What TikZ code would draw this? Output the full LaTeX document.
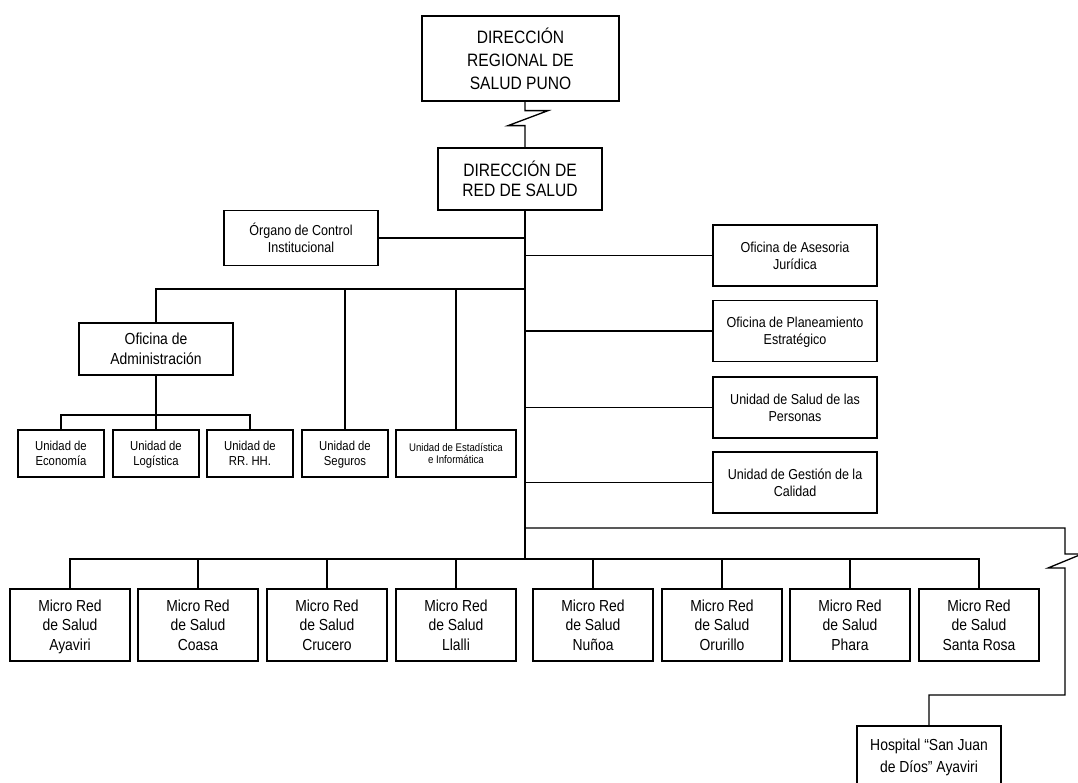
\documentclass[tikz,border=0pt]{standalone}
\usepackage{fontspec}
\setmainfont{Liberation Sans}[FakeStretch=0.87]
\usepackage{tikz}

\begin{document}
\begin{tikzpicture}[
  x=0.02cm, y=-0.02cm,
  line width=0.75pt,
  box/.style={draw, align=center, inner sep=1pt, text depth=0pt},
  headbox/.style={box, font=\fontsize{10.2}{13}\selectfont},
  officebox/.style={box, minimum width=3.28cm, minimum height=1.22cm,
    font=\fontsize{8.2}{9.6}\selectfont},
  unitbox/.style={box, minimum width=1.72cm, minimum height=0.94cm,
    font=\fontsize{7.4}{8.4}\selectfont},
  microbox/.style={box, minimum width=2.4cm, minimum height=1.44cm,
    font=\fontsize{9.1}{11}\selectfont}
]
\useasboundingbox (0,0) rectangle (1078,783);

% top of the chart
\node[headbox, minimum width=3.94cm, minimum height=1.7cm] (dirreg) at (520.5,58.5)
  {DIRECCIÓN\\REGIONAL DE\\SALUD PUNO};
\node[headbox, minimum width=3.28cm, minimum height=1.24cm,
  font=\fontsize{10.2}{11.4}\selectfont] (dirred) at (520,179)
  {DIRECCIÓN DE\\RED DE SALUD};
\coordinate (trunk) at (525,210);
\coordinate (lbus) at (525,289);
\coordinate (sbus) at (0,415);
\coordinate (hbus) at (1065,528);
\coordinate (mbus) at (525,559);
\coordinate (hturn) at (1065,695);

\draw (dirreg.south -| trunk) -- ++(0,9) -- ++(23,0) -- ++(-40,15) -- ++(17,0)
  -- (dirred.north -| trunk);
\draw (trunk) -- (mbus);

% staff offices
\node[officebox, minimum width=3.08cm, minimum height=1.1cm] (oci) at (301,238)
  {Órgano de Control\\Institucional};
\draw (oci.east) -- (oci.east -| trunk);

\node[officebox] (aj) at (795,255.5) {Oficina de Asesoria\\Jurídica};
\node[officebox] (pe) at (795,331) {Oficina de Planeamiento\\Estratégico};
\node[officebox] (sp) at (795,407.5) {Unidad de Salud de las\\Personas};
\node[officebox] (gc) at (795,482.5) {Unidad de Gestión de la\\Calidad};
\foreach \o in {aj,pe,sp,gc}
  \draw (\o.west -| trunk) -- (\o.west);

% line units
\node[box, minimum width=3.08cm, minimum height=1.04cm,
  font=\fontsize{9.1}{11.3}\selectfont] (adm) at (156,349)
  {Oficina de\\Administración};
\node[unitbox] (eco) at (61,453.5) {Unidad de\\Economía};
\node[unitbox] (log) at (156,453.5) {Unidad de\\Logística};
\node[unitbox] (rrhh) at (250,453.5) {Unidad de\\RR. HH.};
\node[unitbox] (seg) at (345,453.5) {Unidad de\\Seguros};
\node[unitbox, minimum width=2.4cm, font=\fontsize{6.3}{7}\selectfont] (est) at (456,453.5)
  {Unidad de Estadística\\e Informática};

\draw (adm.north) |- (lbus);
\draw (seg.north) -- (seg.north |- lbus);
\draw (est.north) -- (est.north |- lbus);
\draw (adm.south) -- (log.north);
\draw (eco.north) |- (rrhh.north |- sbus) -- (rrhh.north);

% micro networks
\foreach \x/\n/\place in {70/1/Ayaviri, 198/2/Coasa, 327/3/Crucero, 456/4/Llalli,
    593/5/Nuñoa, 722/6/Orurillo, 850/7/Phara, 979/8/Santa Rosa}
  \node[microbox] (m\n) at (\x,625) {Micro Red\\de Salud\\\place};
\draw (m1.north) |- (m8.north |- mbus) -- (m8.north);
\foreach \n in {2,...,7}
  \draw (m\n.north) -- (m\n.north |- mbus);

% hospital
\node[box, minimum width=2.88cm, minimum height=1.2cm,
  font=\fontsize{9.1}{12.3}\selectfont] (hosp) at (929,756)
  {Hospital “San Juan\\de Díos” Ayaviri};
\draw (hbus -| trunk) -- (hbus) -- ++(0,26) -- ++(17,0) -- ++(-34,14) -- ++(17,0)
  -- (hturn) -| (hosp.north);
\end{tikzpicture}
\end{document}
